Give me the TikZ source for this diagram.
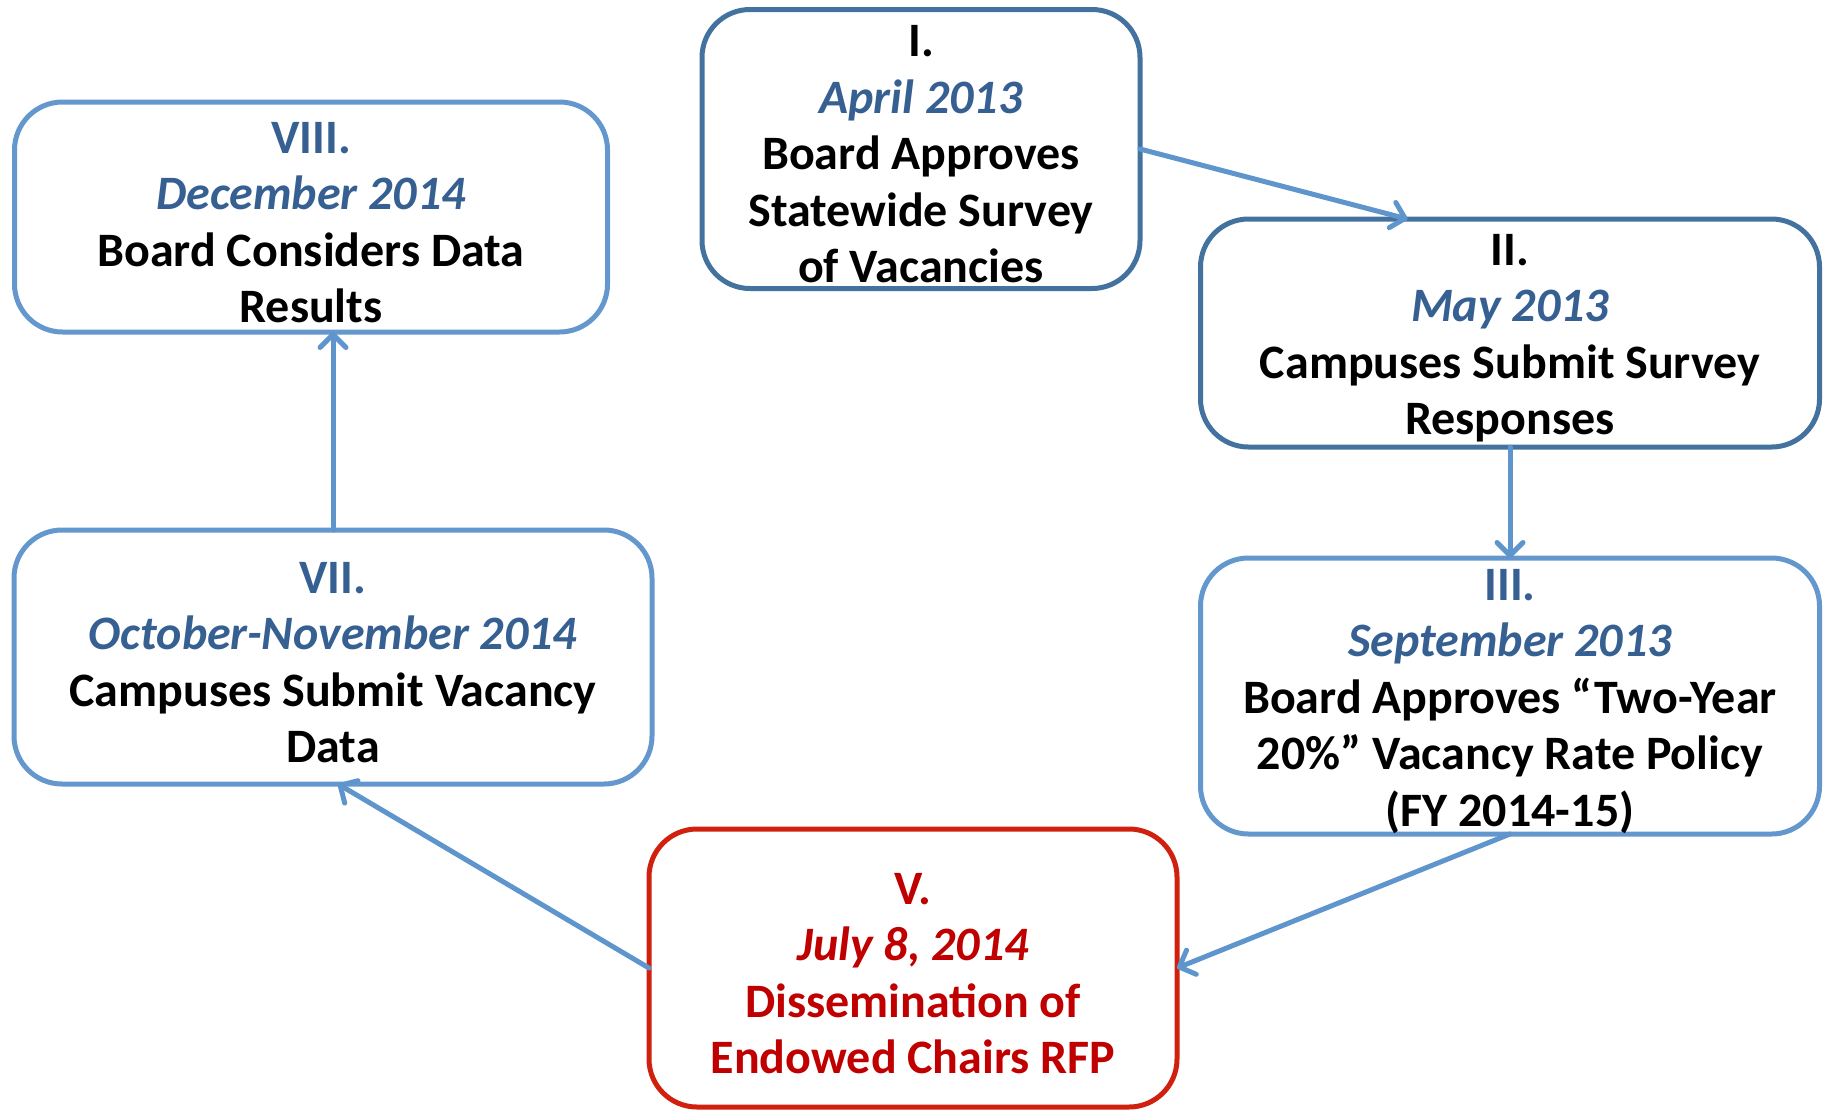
\documentclass[tikz,border=0pt]{standalone}
\usepackage{fontspec}
\setmainfont{Carlito}
\usetikzlibrary{arrows.meta}
\definecolor{bdark}{HTML}{44729F}
\definecolor{blight}{HTML}{6497CD}
\definecolor{arrowc}{HTML}{5F95CD}
\definecolor{datec}{HTML}{376092}
\definecolor{redb}{HTML}{D0210F}
\definecolor{redt}{HTML}{C00000}
\tikzset{
  stage/.style={draw, line width=5pt, rounded corners=48pt, inner sep=0pt, outer sep=0pt,
    align=center, font=\bfseries\fontsize{48}{56.5}\selectfont, fill=white},
  darkbox/.style={stage, draw=bdark},
  lightbox/.style={stage, draw=blight},
  redbox/.style={stage, draw=redb, text=redt},
  flow/.style={draw=arrowc, line width=5pt, line cap=round,
    -{Straight Barb[length=13pt,width=26pt,line width=5pt,round]}},
}
\newcommand{\dt}[1]{{\color{datec}\itshape #1}}
\newcommand{\bn}[1]{{\color{datec}#1}}
\newcommand{\ts}{\rule{0pt}{42pt}}
\begin{document}
\begin{tikzpicture}[x=1pt,y=-1pt]
\useasboundingbox (0,0) rectangle (1828,1112);
\node[darkbox, minimum width=438pt, minimum height=279pt] (I) at (921,149)
  {\ts I.\\ \dt{April 2013}\\ Board Approves\\ Statewide Survey\\ of Vacancies};
\node[darkbox, minimum width=619pt, minimum height=228pt] (II) at (1510,333)
  {\ts II.\\ \dt{May 2013}\\ Campuses Submit Survey\\ Responses};
\node[lightbox, minimum width=619pt, minimum height=276pt] (III) at (1510,696)
  {\ts\bn{III.}\\ \dt{September 2013}\\ Board Approves “Two-Year\\ 20\%” Vacancy Rate Policy\\ (FY 2014-15)};
\node[redbox, minimum width=528pt, minimum height=278pt] (V) at (913,968)
  {\ts V.\\ {\itshape July 8, 2014}\\ Dissemination of\\ Endowed Chairs RFP};
\node[lightbox, minimum width=638pt, minimum height=254pt] (VII) at (333,657)
  {\ts\bn{VII.}\\ \dt{October-November 2014}\\ Campuses Submit Vacancy\\ Data};
\node[lightbox, minimum width=593pt, minimum height=230pt] (VIII) at (311,217)
  {\ts\bn{VIII.}\\ \dt{December 2014}\\ Board Considers Data\\ Results};
\draw[flow] (I.east) -- ([xshift=207pt]II.north west);
\draw[flow] (II.south) -- (III.north);
\draw[flow] (III.south) -- (V.east);
\draw[flow] (V.west) -- ([xshift=5pt]VII.south);
\draw[flow] (VII.north) -- (VII.north |- VIII.south);
\end{tikzpicture}
\end{document}
